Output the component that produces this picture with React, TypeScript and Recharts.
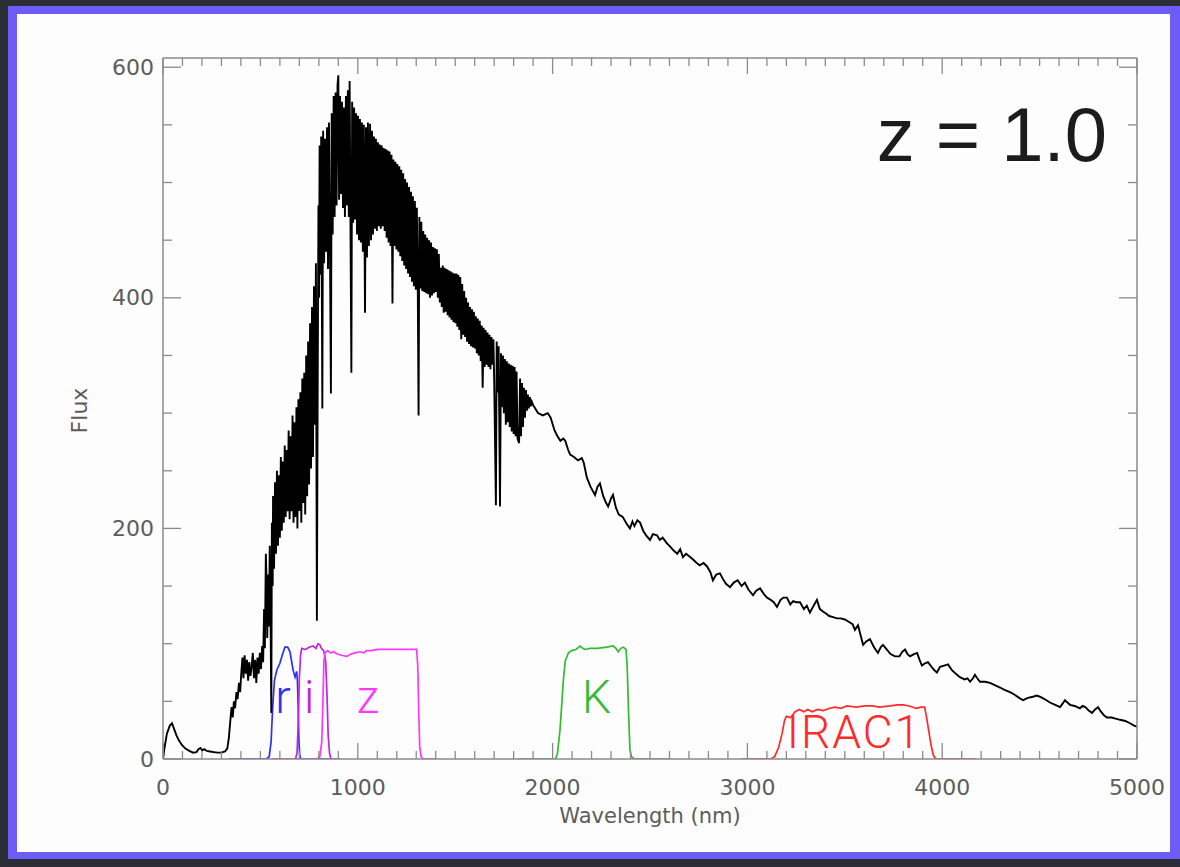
import { LineChart, Line, XAxis, YAxis, ReferenceDot } from "recharts";

// spectrum of the galaxy template at z = 1.0, [wavelength nm, flux]
const spectrum: [number, number][] = [
  [0, 0], [8, 10], [20, 22], [35, 29], [46, 31], [55, 27], [68, 21], [82, 16], [98, 12], [115, 9],
  [135, 7], [155, 5.5], [172, 6], [182, 8.5], [192, 9.5], [202, 7.5], [212, 8.5], [225, 7], [242, 6.5], [260, 6],
  [280, 5.5], [300, 5.5], [318, 6.5], [330, 9], [338, 18], [345, 32], [352, 45], [358, 36], [364, 50], [370, 44],
  [377, 58], [383, 52], [390, 66], [396, 58], [402, 75], [408, 88], [413, 70], [419, 90], [425, 74], [431, 86],
  [437, 68], [443, 84], [449, 72], [455, 80], [461, 92], [467, 70], [473, 86], [479, 66], [485, 88], [491, 74],
  [497, 92], [503, 78], [509, 98], [514, 84], [519, 130], [523, 96], [528, 178], [532, 150], [535, 105], [540, 160],
  [544, 115], [548, 185], [552, 128], [556, 40], [559, 205], [563, 150], [565, 228], [570, 165], [575, 240], [580, 178],
  [585, 250], [590, 185], [595, 246], [600, 192], [605, 262], [610, 198], [615, 258], [620, 205], [625, 272], [630, 210],
  [635, 268], [640, 215], [645, 285], [650, 208], [655, 280], [660, 215], [665, 298], [670, 205], [675, 292], [680, 210],
  [685, 305], [690, 200], [695, 312], [700, 215], [705, 318], [710, 205], [715, 330], [720, 222], [725, 335], [730, 212],
  [735, 350], [740, 228], [745, 362], [750, 238], [755, 378], [760, 252], [765, 392], [770, 262], [775, 410], [780, 290],
  [785, 430], [790, 120], [794, 320], [798, 480], [801, 400], [804, 532], [808, 420], [812, 540], [818, 304], [822, 545],
  [827, 430], [832, 538], [837, 440], [842, 548], [847, 425], [852, 552], [857, 445], [862, 317], [866, 560], [871, 455],
  [876, 575], [881, 470], [886, 578], [891, 480], [896, 585], [900, 593], [904, 485], [909, 575], [914, 490], [919, 570],
  [924, 478], [929, 565], [934, 470], [939, 575], [944, 480], [949, 580], [954, 470], [958, 588], [962, 475], [967, 335],
  [971, 570], [976, 465], [981, 565], [986, 468], [991, 560], [996, 455], [1001, 558], [1006, 450], [1011, 555], [1016, 448],
  [1021, 552], [1026, 440], [1031, 550], [1037, 387], [1042, 548], [1047, 435], [1052, 552], [1057, 445], [1063, 551], [1068, 450],
  [1073, 545], [1078, 455], [1083, 540], [1088, 460], [1093, 538], [1098, 458], [1103, 535], [1108, 462], [1113, 533], [1118, 460],
  [1123, 532], [1128, 462], [1133, 530], [1138, 458], [1143, 529], [1148, 452], [1153, 528], [1158, 448], [1163, 527], [1168, 445],
  [1173, 524], [1178, 395], [1183, 520], [1188, 445], [1193, 518], [1198, 442], [1203, 516], [1208, 440], [1213, 514], [1218, 436],
  [1223, 511], [1228, 432], [1233, 508], [1238, 428], [1243, 503], [1248, 425], [1253, 500], [1258, 421], [1263, 496], [1268, 418],
  [1273, 492], [1278, 414], [1283, 488], [1288, 410], [1293, 484], [1298, 407], [1303, 478], [1308, 405], [1312, 298], [1316, 470],
  [1321, 408], [1326, 466], [1331, 406], [1336, 458], [1341, 405], [1346, 455], [1351, 404], [1356, 452], [1361, 403], [1366, 450],
  [1371, 400], [1376, 448], [1381, 402], [1386, 444], [1391, 404], [1396, 443], [1401, 405], [1406, 442], [1411, 400], [1416, 438],
  [1421, 396], [1426, 426], [1431, 392], [1436, 428], [1441, 387], [1446, 426], [1451, 388], [1456, 425], [1461, 385], [1466, 424],
  [1471, 383], [1476, 423], [1481, 381], [1486, 422], [1491, 379], [1496, 421], [1501, 378], [1506, 421], [1511, 375], [1516, 420],
  [1521, 372], [1526, 418], [1531, 364], [1536, 412], [1541, 368], [1546, 406], [1551, 366], [1556, 400], [1561, 362], [1566, 396],
  [1571, 360], [1576, 392], [1581, 358], [1586, 390], [1591, 357], [1596, 388], [1601, 356], [1606, 384], [1611, 352], [1616, 382],
  [1621, 350], [1626, 380], [1631, 345], [1636, 376], [1641, 322], [1646, 374], [1651, 340], [1656, 372], [1661, 342], [1666, 370],
  [1671, 340], [1676, 368], [1681, 338], [1686, 366], [1691, 342], [1696, 364], [1700, 330], [1709, 220], [1713, 362], [1718, 318],
  [1723, 358], [1730, 219], [1735, 352], [1740, 305], [1745, 350], [1750, 300], [1755, 347], [1760, 290], [1765, 345], [1770, 292],
  [1775, 343], [1780, 288], [1785, 342], [1790, 284], [1795, 341], [1800, 282], [1805, 340], [1810, 280], [1815, 336], [1820, 278],
  [1828, 274], [1833, 330], [1838, 280], [1843, 326], [1848, 288], [1853, 322], [1858, 296], [1863, 320], [1868, 302], [1873, 316],
  [1878, 304], [1883, 314], [1888, 306], [1893, 310], [1900, 307], [1925, 300], [1950, 298], [1975, 300], [1990, 296], [2010, 285],
  [2025, 280], [2040, 276], [2055, 278], [2065, 276], [2080, 268], [2090, 264], [2110, 262], [2130, 259], [2150, 261], [2160, 257],
  [2176, 244], [2195, 236], [2218, 229], [2230, 236], [2243, 239], [2260, 228], [2275, 222], [2285, 219], [2300, 226], [2310, 229],
  [2325, 218], [2340, 212], [2360, 210], [2380, 204], [2397, 200], [2410, 206], [2420, 202], [2435, 207], [2449, 205], [2465, 198],
  [2480, 194], [2500, 190], [2515, 195], [2536, 194], [2550, 190], [2565, 192], [2587, 187], [2605, 184], [2620, 181], [2640, 178],
  [2655, 182], [2669, 175], [2685, 178], [2700, 176], [2721, 173], [2740, 170], [2755, 168], [2775, 170], [2793, 167], [2810, 162],
  [2823, 155], [2840, 160], [2859, 161], [2875, 156], [2890, 152], [2911, 149], [2930, 153], [2950, 155], [2970, 150], [2987, 153],
  [3005, 147], [3029, 142], [3045, 146], [3065, 148], [3085, 143], [3100, 140], [3120, 138], [3135, 136], [3152, 132], [3170, 138],
  [3185, 140], [3203, 140], [3220, 134], [3235, 137], [3250, 136], [3270, 136], [3290, 130], [3305, 133], [3321, 127], [3340, 133],
  [3357, 138], [3372, 130], [3388, 128], [3405, 126], [3420, 124], [3440, 123], [3460, 122], [3480, 122], [3500, 121], [3520, 119],
  [3540, 117], [3552, 112], [3568, 116], [3580, 108], [3594, 99], [3610, 102], [3629, 104], [3650, 97], [3670, 92], [3685, 97],
  [3696, 99], [3715, 95], [3735, 91], [3758, 89], [3780, 89], [3795, 93], [3809, 95], [3822, 91], [3835, 89], [3855, 91],
  [3871, 92], [3884, 86], [3896, 81], [3912, 83], [3927, 84], [3945, 80], [3960, 77], [3973, 75], [3989, 80], [4010, 81],
  [4030, 82], [4050, 77], [4070, 74], [4091, 71], [4115, 69], [4130, 70], [4143, 67], [4158, 70], [4168, 73], [4180, 70],
  [4194, 67], [4220, 67], [4245, 66], [4270, 64], [4297, 62], [4320, 60], [4348, 58], [4370, 56], [4395, 53], [4415, 51],
  [4440, 53], [4466, 54], [4485, 55], [4502, 54], [4525, 52], [4553, 49], [4580, 47], [4605, 45], [4618, 48], [4630, 51],
  [4643, 49], [4656, 47], [4680, 46], [4707, 44], [4720, 46], [4735, 45], [4752, 42], [4769, 40], [4785, 43], [4800, 45],
  [4815, 41], [4830, 38], [4846, 36], [4870, 36], [4890, 35], [4913, 34], [4940, 33], [4964, 31], [4985, 29], [5000, 28],
];

// filter transmission curves (arbitrary scale), [wavelength nm, value]
const filterR: [number, number][] = [
  [340, 0], [530, 0], [545, 2], [555, 15], [563, 45], [572, 68], [584, 77], [600, 83], [612, 90], [626, 97],
  [640, 97], [652, 93], [660, 85], [668, 77], [678, 71], [686, 76], [690, 68], [694, 45], [698, 15], [702, 3],
  [708, 0], [860, 0],
];
const filterI: [number, number][] = [
  [560, 0], [680, 0], [688, 5], [694, 30], [700, 70], [706, 90], [712, 96], [730, 95], [750, 97], [770, 98],
  [785, 96], [796, 100], [805, 99], [813, 96], [825, 94], [835, 85], [842, 55], [848, 20], [855, 5], [862, 0],
  [910, 0],
];
const filterZ: [number, number][] = [
  [560, 0], [790, 0], [805, 2], [815, 15], [821, 50], [826, 85], [832, 92], [845, 94], [860, 92], [875, 93],
  [895, 91], [915, 90], [943, 89], [965, 91], [985, 92], [1010, 93], [1030, 92], [1044, 94], [1070, 94], [1100, 95],
  [1130, 95], [1200, 95], [1250, 95], [1302, 95], [1308, 80], [1313, 40], [1318, 10], [1325, 2], [1335, 0], [1400, 0],
];
const filterK: [number, number][] = [
  [1820, 0], [2015, 0], [2025, 5], [2038, 25], [2048, 50], [2055, 68], [2065, 85], [2081, 92], [2098, 94], [2120, 95],
  [2141, 98], [2155, 96], [2167, 95], [2192, 96], [2230, 96], [2277, 97], [2311, 98], [2325, 96], [2337, 93], [2350, 96],
  [2363, 97], [2377, 95], [2383, 80], [2390, 40], [2397, 8], [2405, 2], [2420, 0], [2600, 0],
];
const filterIRAC1: [number, number][] = [
  [2970, 0], [3120, 0], [3140, 2], [3160, 10], [3178, 22], [3190, 33], [3200, 37], [3222, 36], [3245, 41], [3267, 43],
  [3290, 41], [3310, 43], [3333, 41], [3360, 43], [3390, 42], [3422, 44], [3450, 45], [3480, 44], [3511, 46], [3560, 45],
  [3600, 46], [3640, 46], [3680, 45], [3733, 46], [3770, 47], [3800, 47], [3830, 46], [3867, 44], [3890, 45], [3910, 45],
  [3922, 34], [3935, 20], [3944, 11], [3955, 3], [3967, 0], [4170, 0],
];

const filterNames = ["r", "i", "z", "K", "IRAC1"];
const filterLabelNm = [616, 751, 1052, 2226, 3549];
const filterLabelFlux = [40, 40, 40, 40, 9.5];

const xMajorTicks = [0, 1000, 2000, 3000, 4000, 5000];
const yMajorTicks = [0, 200, 400, 600];
const redshiftLabel = "z = 1.0";

const COLORS: Record<string, string> = {
  r: "#2f2fff",
  i: "#c024e4",
  z: "#ff38ff",
  K: "#33bb33",
  IRAC1: "#ff2a2a",
};

const AXIS = "#8a8a8a";
const TICK_TEXT = "#5c5c5c";
const TICK_FONT = "DejaVu Sans";

const rows = (pts: [number, number][]) => pts.map(([nm, flux]) => ({ nm, flux }));

const xTicks = Array.from({ length: 51 }, (_, i) => i * 100);
const yTicks = Array.from({ length: 13 }, (_, i) => i * 50);

function BottomTick({ x, y, payload }: any) {
  const major = xMajorTicks.includes(payload.value);
  return (
    <g>
      <line x1={x} x2={x} y1={y} y2={y - (major ? 16 : 8)} stroke={AXIS} strokeWidth={1.3} />
      {major && (
        <text x={x} y={y + 36} textAnchor="middle" fontFamily={TICK_FONT} fontSize={22} fill={TICK_TEXT}>
          {payload.value}
        </text>
      )}
    </g>
  );
}

function TopTick({ x, y, payload }: any) {
  const major = xMajorTicks.includes(payload.value);
  return <line x1={x} x2={x} y1={y} y2={y + (major ? 16 : 8)} stroke={AXIS} strokeWidth={1.3} />;
}

function LeftTick({ x, y, payload }: any) {
  const major = yMajorTicks.includes(payload.value);
  return (
    <g>
      <line x1={x} x2={x + (major ? 18 : 9)} y1={y} y2={y} stroke={AXIS} strokeWidth={1.3} />
      {major && (
        <text x={x - 9} y={y} textAnchor="end" dominantBaseline="central" fontFamily={TICK_FONT} fontSize={22} fill={TICK_TEXT}>
          {payload.value}
        </text>
      )}
    </g>
  );
}

function RightTick({ x, y, payload }: any) {
  const major = yMajorTicks.includes(payload.value);
  return <line x1={x} x2={x - (major ? 18 : 9)} y1={y} y2={y} stroke={AXIS} strokeWidth={1.3} />;
}

const filterSeries = [
  { name: "r", pts: filterR },
  { name: "i", pts: filterI },
  { name: "z", pts: filterZ },
  { name: "K", pts: filterK },
  { name: "IRAC1", pts: filterIRAC1 },
];

export default function App() {
  return (
    <div style={{ position: "absolute", left: 0, top: 0, width: 1180, height: 867, background: "#2b2d34", overflow: "hidden" }}>
      <div
        style={{
          position: "absolute",
          left: 8,
          top: 6,
          width: 1172,
          height: 853,
          boxSizing: "border-box",
          borderStyle: "solid",
          borderColor: "#6e5cf6",
          borderWidth: "8px 10px 7px 9px",
          background: "#fcfdfc",
        }}
      />
      <div style={{ position: "absolute", left: 0, top: 0 }}>
        <LineChart width={1180} height={867} margin={{ top: 57, right: 42, bottom: 107, left: 162 }}>
          <XAxis
            dataKey="nm"
            type="number"
            domain={[0, 5000]}
            allowDataOverflow
            ticks={xTicks}
            interval={0}
            height={1}
            tickSize={0}
            tickMargin={0}
            tickLine={false}
            tick={(p: any) => <BottomTick {...p} />}
            axisLine={{ stroke: AXIS, strokeWidth: 1.5 }}
            label={{
              content: ({ viewBox }: any) => (
                <text
                  x={viewBox.x + viewBox.width / 2}
                  y={viewBox.y + 64}
                  textAnchor="middle"
                  fontFamily={TICK_FONT}
                  fontSize={21}
                  fill={TICK_TEXT}
                >
                  Wavelength (nm)
                </text>
              ),
            }}
          />
          <XAxis
            xAxisId="top"
            orientation="top"
            dataKey="nm"
            type="number"
            domain={[0, 5000]}
            allowDataOverflow
            ticks={xTicks}
            interval={0}
            height={1}
            tickSize={0}
            tickMargin={0}
            tickLine={false}
            tick={(p: any) => <TopTick {...p} />}
            axisLine={{ stroke: AXIS, strokeWidth: 1.5 }}
          />
          <YAxis
            type="number"
            domain={[0, 608]}
            allowDataOverflow
            ticks={yTicks}
            interval={0}
            width={1}
            tickSize={0}
            tickMargin={0}
            tickLine={false}
            tick={(p: any) => <LeftTick {...p} />}
            axisLine={{ stroke: AXIS, strokeWidth: 1.5 }}
            label={{
              content: ({ viewBox }: any) => {
                const cx = viewBox.x - 83;
                const cy = viewBox.y + viewBox.height / 2 + 2;
                return (
                  <text
                    x={cx}
                    y={cy}
                    transform={`rotate(-90, ${cx}, ${cy})`}
                    textAnchor="middle"
                    dominantBaseline="central"
                    fontFamily={TICK_FONT}
                    fontSize={22}
                    fill={TICK_TEXT}
                  >
                    Flux
                  </text>
                );
              },
            }}
          />
          <YAxis
            yAxisId="right"
            orientation="right"
            type="number"
            domain={[0, 608]}
            allowDataOverflow
            ticks={yTicks}
            interval={0}
            width={1}
            tickSize={0}
            tickMargin={0}
            tickLine={false}
            tick={(p: any) => <RightTick {...p} />}
            axisLine={{ stroke: AXIS, strokeWidth: 1.5 }}
          />
          {filterSeries.map((s) => (
            <Line
              key={s.name}
              data={rows(s.pts)}
              dataKey="flux"
              type="linear"
              stroke={COLORS[s.name]}
              strokeWidth={1.7}
              dot={false}
              isAnimationActive={false}
            />
          ))}
          <Line
            data={rows(spectrum)}
            dataKey="flux"
            type="linear"
            stroke="#000000"
            strokeWidth={1.9}
            dot={false}
            isAnimationActive={false}
          />
          {filterNames.map((name, i) => (
            <ReferenceDot
              key={name}
              x={filterLabelNm[i]}
              y={filterLabelFlux[i]}
              r={0}
              shape={(p: any) => (
                <text
                  x={p.cx}
                  y={p.cy}
                  textAnchor="middle"
                  fontFamily="Roboto"
                  fontWeight={300}
                  fontSize={46}
                  letterSpacing={name.length > 1 ? 2 : 0}
                  fill={COLORS[name]}
                >
                  {name}
                </text>
              )}
            />
          ))}
          <ReferenceDot
            x={4255}
            y={519}
            r={0}
            shape={(p: any) => (
              <text x={p.cx} y={p.cy} textAnchor="middle" fontFamily="Liberation Sans" fontSize={76} fill="#1c1c1c">
                {redshiftLabel}
              </text>
            )}
          />
        </LineChart>
      </div>
    </div>
  );
}
